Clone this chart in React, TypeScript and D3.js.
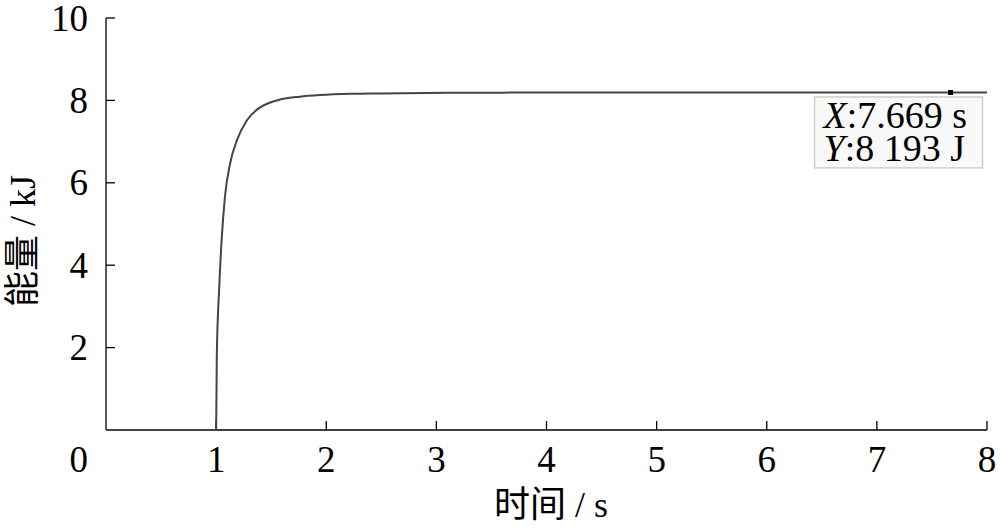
import React from "react";
import * as d3 from "d3";

const times = [0, 1.0, 1.006, 1.027, 1.05, 1.08, 1.127, 1.19, 1.28, 1.4, 1.49, 1.58, 1.76, 1.945, 2.22, 2.49, 3.12, 4.03, 5, 6, 7, 7.669, 8];
const energy = [0, 0, 1.78, 3.4, 4.61, 5.66, 6.47, 7.04, 7.52, 7.83, 7.95, 8.02, 8.09, 8.13, 8.16, 8.17, 8.185, 8.19, 8.191, 8.192, 8.193, 8.193, 8.193];
const xTicks = [1, 2, 3, 4, 5, 6, 7, 8];
const yTicks = [2, 4, 6, 8, 10];
const tipX = 7.669;
const tipY = 8.193;

const W = 1000;
const H = 529;
const left = 106;
const right = 987;
const top = 18;
const bottom = 430;
const serif = "Liberation Serif";
const cjk = "Noto Sans CJK SC";

export default function App() {
  const x = d3.scaleLinear().domain([0, 8]).range([left, right]);
  const y = d3.scaleLinear().domain([0, 10]).range([bottom, top]);
  const pts = times.map((t, i) => [t, energy[i]] as [number, number]);
  const line = d3
    .line<[number, number]>()
    .x((d) => x(d[0]))
    .y((d) => y(d[1]))
    .curve(d3.curveMonotoneX);
  const mx = x(tipX);
  const my = y(tipY);
  return (
    <svg width={W} height={H} style={{ position: "absolute", left: 0, top: 0, background: "#fff" }}>
      <rect x={0} y={0} width={W} height={H} fill="#fff" />
      <line x1={left} y1={bottom} x2={right} y2={bottom} stroke="#000" strokeWidth={1.3} />
      <line x1={left} y1={bottom} x2={left} y2={top} stroke="#000" strokeWidth={1.3} />
      {xTicks.map((t) => (
        <g key={"x" + t}>
          <line x1={x(t)} x2={x(t)} y1={bottom} y2={bottom - 9} stroke="#000" strokeWidth={1.3} />
          <text x={x(t)} y={472} textAnchor="middle" style={{ fontFamily: serif }} fontSize={37} fill="#000">
            {t}
          </text>
        </g>
      ))}
      <text x={88} y={472} textAnchor="end" style={{ fontFamily: serif }} fontSize={37} fill="#000">
        0
      </text>
      {yTicks.map((t) => (
        <g key={"y" + t}>
          <line x1={left} x2={left + 9} y1={y(t)} y2={y(t)} stroke="#000" strokeWidth={1.3} />
          <text x={88} y={y(t) + 12.5} textAnchor="end" style={{ fontFamily: serif }} fontSize={37} fill="#000">
            {t}
          </text>
        </g>
      ))}
      <path d={line(pts) || ""} fill="none" stroke="#444" strokeWidth={2} />
      <rect x={mx - 2.5} y={my - 2.5} width={5} height={5} fill="#000" />
      <rect x={mx - 136} y={my + 4.5} width={168} height={71} fill="#f9f9f9" stroke="#c8c8c8" strokeWidth={1.3} />
      <text x={mx - 127} y={my + 35.5} style={{ fontFamily: serif }} fontSize={38} fill="#000">
        <tspan fontStyle="italic">X</tspan>
        <tspan>:7.669 s</tspan>
      </text>
      <text x={mx - 127} y={my + 69} style={{ fontFamily: serif }} fontSize={38} fill="#000">
        <tspan fontStyle="italic">Y</tspan>
        <tspan>:8 193 J</tspan>
      </text>
      <text x={551} y={517} textAnchor="middle" fontSize={36} fill="#000">
        <tspan style={{ fontFamily: cjk }}>时间</tspan>
        <tspan style={{ fontFamily: serif }}> / s</tspan>
      </text>
      <text transform={`translate(35, 241) rotate(-90)`} textAnchor="middle" fontSize={36} fill="#000">
        <tspan style={{ fontFamily: cjk }}>能量</tspan>
        <tspan style={{ fontFamily: serif }}> / kJ</tspan>
      </text>
    </svg>
  );
}
